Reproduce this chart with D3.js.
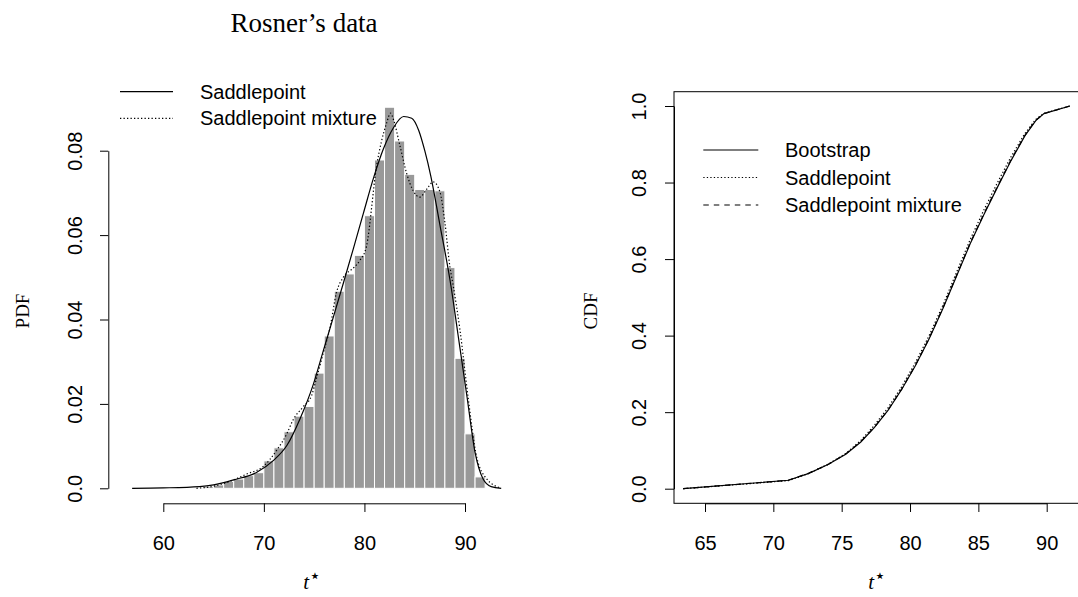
<!DOCTYPE html>
<html><head><meta charset="utf-8">
<script src="https://cdn.jsdelivr.net/npm/d3@7"></script>
<style>
html,body{margin:0;padding:0;background:#fff;}
svg{display:block;}
.sans{font-family:"Liberation Sans",Arial,sans-serif;}
.serif{font-family:"Liberation Serif","Times New Roman",serif;}
</style></head><body>
<svg id="fig" width="1078" height="597"></svg>
<script>
// Bootstrap replicates t*: histogram (bin lower edges, unit-width bins) and density per bin
const binStarts  = [63,64,65,66,67,68,69,70,71,72,73,74,75,76,77,78,79,80,81,82,83,84,85,86,87,88,89,90,91];
const binDensity = [0.0002,0.0004,0.0008,0.0016,0.0022,0.0030,0.0037,0.0065,0.0096,0.0134,0.0171,0.0194,
                    0.0273,0.0361,0.0467,0.0508,0.0552,0.0646,0.0778,0.0903,0.0823,0.0744,0.0708,0.0708,
                    0.0705,0.0523,0.0308,0.0129,0.0027];

// Saddlepoint density approximation
const spT = [56.9,60.0,63.6,65.0,67.0,69.3,70.9,72.3,73.6,74.9,75.9,76.9,77.9,78.9,79.9,80.9,81.9,82.9,83.9,84.7,85.4,86.0,86.6,87.5,88.6,89.3,90.2,91.0,91.8,92.6,93.6];
const spD = [0.0000,0.0001,0.0004,0.0008,0.0020,0.0038,0.0065,0.0102,0.0165,0.0245,0.0325,0.0405,0.0486,0.0568,0.0652,0.0735,0.0805,0.0855,0.0881,0.0877,0.0848,0.0800,0.0740,0.0625,0.0480,0.0365,0.0217,0.0085,0.0022,0.0004,0.0000];

// Saddlepoint mixture density
const mixT = [63.3,65.0,67.0,68.3,69.9,71.3,72.3,72.9,73.9,74.75,75.1,75.9,76.6,77.2,77.9,78.9,79.55,80.2,81.2,82.2,82.6,82.9,83.5,84.2,84.85,85.5,86.2,86.84,87.5,88.0,88.5,88.83,89.5,90.3,91.15,92.1,93.5];
const mixD = [0.0000,0.0005,0.0020,0.0034,0.0051,0.0091,0.0130,0.0162,0.0193,0.0220,0.0249,0.0320,0.0383,0.0462,0.0500,0.0522,0.0540,0.0573,0.0762,0.0865,0.0889,0.0873,0.0815,0.0746,0.0705,0.0690,0.0709,0.0726,0.0703,0.0630,0.0525,0.0480,0.0375,0.0217,0.0075,0.0024,0.0001];

// Distribution functions
const cdfT      = [63.4,71.1,72.6,74.0,75.3,76.4,77.4,78.4,79.4,80.4,81.4,82.4,83.4,84.4,85.4,86.4,87.4,88.4,89.2,89.8,91.7];
const bootCdf   = [0.000,0.022,0.040,0.063,0.090,0.122,0.160,0.205,0.260,0.322,0.392,0.470,0.555,0.640,0.716,0.788,0.858,0.922,0.962,0.980,1.000];
const spCdf     = [0.000,0.021,0.040,0.064,0.092,0.126,0.166,0.212,0.267,0.330,0.400,0.479,0.565,0.651,0.728,0.800,0.868,0.928,0.965,0.981,1.000];
const mixCdf    = [0.000,0.022,0.041,0.063,0.091,0.123,0.161,0.206,0.261,0.323,0.393,0.472,0.557,0.642,0.718,0.790,0.860,0.923,0.963,0.980,1.000];

// Axis ticks
const pdfTicksX = [60,70,80,90];
const pdfTicksY = [0,0.02,0.04,0.06,0.08];
const cdfTicksX = [65,70,75,80,85,90];
const cdfTicksY = [0,0.2,0.4,0.6,0.8,1.0];

const svg = d3.select("#fig");
const LW = 1.2;
const DOT = "1.3 2.2";
const DASH = "5.5 5";

/* ---------------- left panel: densities ---------------- */
const xL = d3.scaleLinear().domain([60, 90]).range([163.3, 465]);
const yL = d3.scaleLinear().domain([0, 0.08]).range([488.3, 150.7]);

const left = svg.append("g");

left.append("g").selectAll("rect")
  .data(binStarts.map((b, i) => ({b, d: binDensity[i]})))
  .join("rect")
  .attr("x", d => xL(d.b))
  .attr("width", d => xL(d.b + 1) - xL(d.b))
  .attr("y", d => yL(d.d))
  .attr("height", d => yL(0) - yL(d.d))
  .attr("fill", "#999999")
  .attr("stroke", "#ffffff")
  .attr("stroke-width", 1);

const lineL = d3.line().x(d => xL(d[0])).y(d => yL(d[1])).curve(d3.curveMonotoneX);
left.append("path").datum(spT.map((t, i) => [t, spD[i]]))
  .attr("d", lineL).attr("fill", "none").attr("stroke", "#000").attr("stroke-width", LW);
left.append("path").datum(mixT.map((t, i) => [t, mixD[i]]))
  .attr("d", lineL).attr("fill", "none").attr("stroke", "#000").attr("stroke-width", LW)
  .attr("stroke-dasharray", DOT);

function styleAxis(g) {
  g.attr("font-family", null);
  g.selectAll("path.domain").attr("stroke", "#000").attr("stroke-width", 1);
  g.selectAll(".tick line").attr("stroke", "#000").attr("stroke-width", 1);
  g.selectAll("text").attr("class", "sans").attr("font-size", 20).attr("fill", "#000");
}

const axL_x = left.append("g").attr("transform", "translate(0,503.3)")
  .call(d3.axisBottom(xL).tickValues(pdfTicksX).tickSize(8.7).tickSizeOuter(0));
styleAxis(axL_x);
axL_x.selectAll("text").attr("y", 46.5).attr("dy", 0);

const axL_y = left.append("g").attr("transform", "translate(108.3,0)")
  .call(d3.axisLeft(yL).tickValues(pdfTicksY).tickSize(8.3).tickSizeOuter(0)
        .tickFormat(d => d === 0 ? "0.0" : String(d)));
styleAxis(axL_y);
axL_y.selectAll("text").attr("x", 0).attr("dy", 0).attr("text-anchor", "middle")
  .attr("transform", "translate(-26.6,0) rotate(-90)");

left.append("text").attr("class", "serif").attr("font-size", 27).attr("fill", "#000")
  .attr("x", 304).attr("y", 32).attr("text-anchor", "middle").text("Rosner\u2019s data");

left.append("text").attr("class", "serif").attr("font-size", 19).attr("fill", "#000")
  .attr("transform", "translate(29,311) rotate(-90)").attr("text-anchor", "middle").text("PDF");

function tStar(g, x, y) {
  const t = g.append("text").attr("class", "serif").attr("font-size", 21).attr("fill", "#000")
    .attr("x", x).attr("y", y).attr("text-anchor", "middle");
  t.append("tspan").attr("font-style", "italic").text("t");
  t.append("tspan").attr("font-size", 19).attr("dy", -7).attr("font-family", "DejaVu Sans").text("\u22C6");
}
tStar(left, 312, 589);

// legend
const legL = left.append("g");
[["Saddlepoint", null], ["Saddlepoint mixture", DOT]].forEach((e, i) => {
  const y = 91.7 + i * 26.7;
  legL.append("line").attr("x1", 120).attr("x2", 173).attr("y1", y).attr("y2", y)
    .attr("stroke", "#000").attr("stroke-width", LW).attr("stroke-dasharray", e[1]);
  legL.append("text").attr("class", "sans").attr("font-size", 20).attr("fill", "#000")
    .attr("x", 200).attr("y", y + 7).text(e[0]);
});

/* ---------------- right panel: distribution functions ---------------- */
const xR = d3.scaleLinear().domain([65, 90]).range([705, 1046.7]);
const yR = d3.scaleLinear().domain([0, 1]).range([488.7, 106]);
const right = svg.append("g");

right.append("rect").attr("x", 674).attr("y", 91.7).attr("width", 450).attr("height", 503.3 - 91.7)
  .attr("fill", "none").attr("stroke", "#000").attr("stroke-width", 1);

const lineR = d3.line().x(d => xR(d[0])).y(d => yR(d[1]));
[[bootCdf, null], [spCdf, DOT], [mixCdf, DASH]].forEach(s => {
  right.append("path").datum(cdfT.map((t, i) => [t, s[0][i]]))
    .attr("d", lineR).attr("fill", "none").attr("stroke", "#000").attr("stroke-width", LW)
    .attr("stroke-dasharray", s[1]);
});

const axR_x = right.append("g").attr("transform", "translate(0,503.3)")
  .call(d3.axisBottom(xR).tickValues(cdfTicksX).tickSize(8.7).tickSizeOuter(0));
styleAxis(axR_x);
axR_x.selectAll("text").attr("y", 46.5).attr("dy", 0);

const axR_y = right.append("g").attr("transform", "translate(674,0)")
  .call(d3.axisLeft(yR).tickValues(cdfTicksY).tickSize(9).tickSizeOuter(0)
        .tickFormat(d3.format(".1f")));
styleAxis(axR_y);
axR_y.selectAll("text").attr("x", 0).attr("dy", 0).attr("text-anchor", "middle")
  .attr("transform", "translate(-28,0) rotate(-90)");

right.append("text").attr("class", "serif").attr("font-size", 19).attr("fill", "#000")
  .attr("transform", "translate(597,311) rotate(-90)").attr("text-anchor", "middle").text("CDF");
tStar(right, 877, 589);

const legR = right.append("g");
[["Bootstrap", null], ["Saddlepoint", DOT], ["Saddlepoint mixture", DASH]].forEach((e, i) => {
  const y = 150 + i * 27.5;
  legR.append("line").attr("x1", 703.3).attr("x2", 758.3).attr("y1", y).attr("y2", y)
    .attr("stroke", "#000").attr("stroke-width", LW).attr("stroke-dasharray", e[1]);
  legR.append("text").attr("class", "sans").attr("font-size", 20).attr("fill", "#000")
    .attr("x", 785).attr("y", y + 7).text(e[0]);
});
</script>
</body></html>
